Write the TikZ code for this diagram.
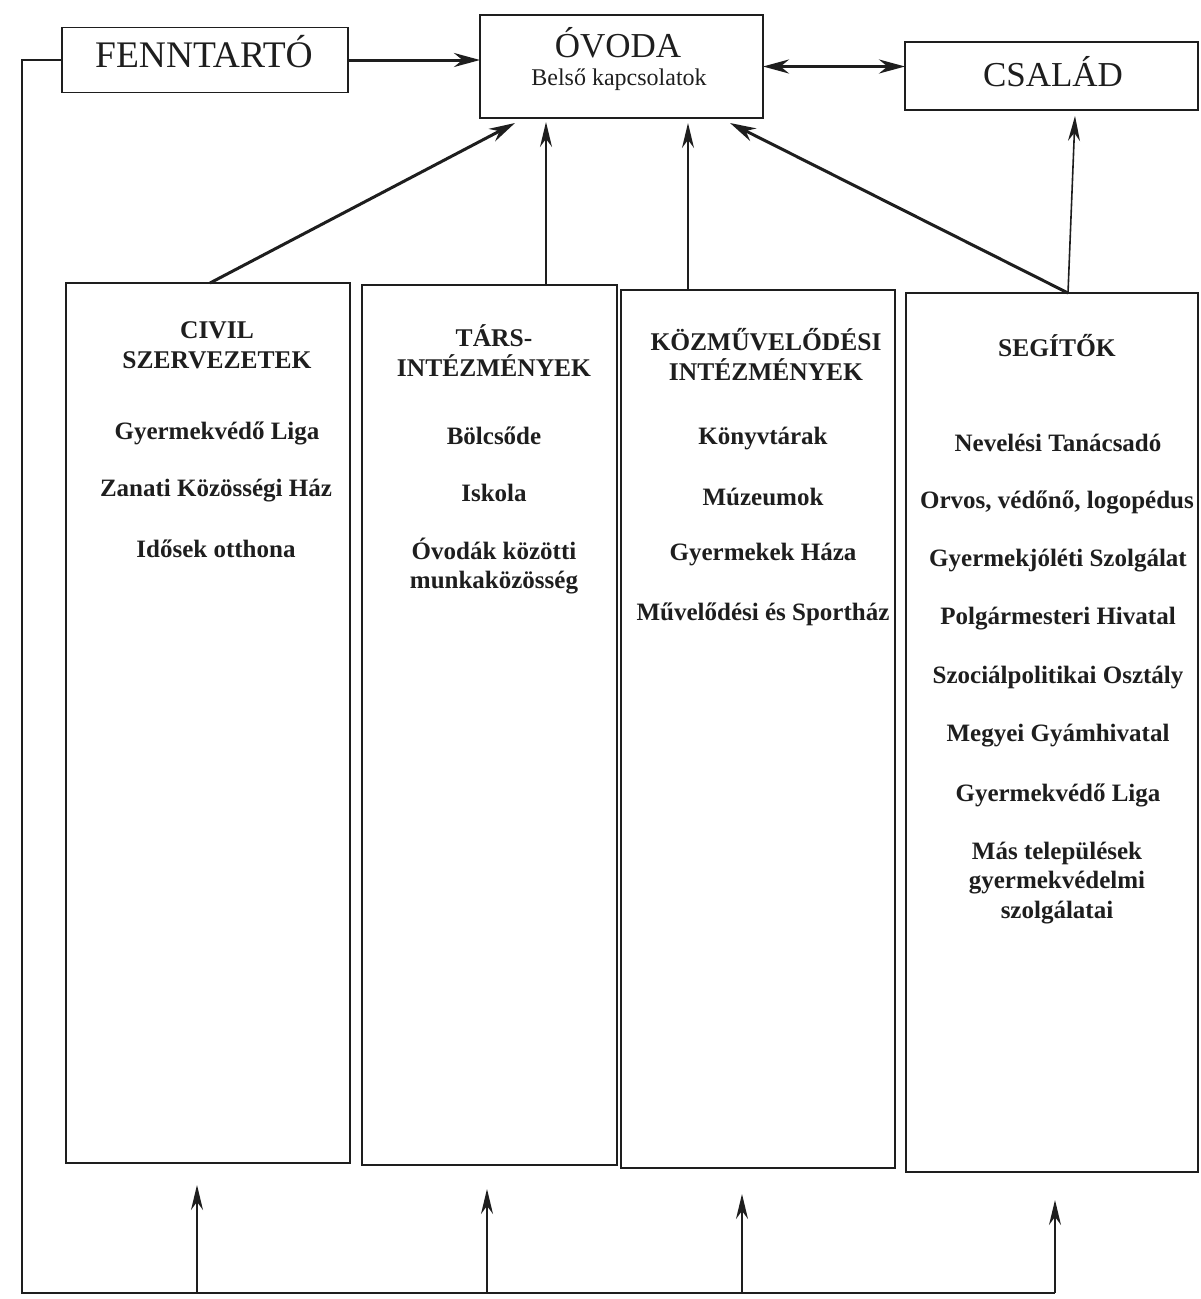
\documentclass[tikz,border=0pt]{standalone}
\usepackage{fontspec}
\setmainfont{Liberation Serif}
\usetikzlibrary{arrows.meta}
\definecolor{ink}{HTML}{1E1E1E}
\begin{document}
\begin{tikzpicture}[x=1pt,y=-1pt,
  bx/.style={draw=ink, line width=1.8pt, inner sep=0pt, outer sep=0pt},
  big/.style={text=ink, inner sep=0pt, font=\fontsize{35}{40}\selectfont},
  sub/.style={text=ink, inner sep=0pt, font=\fontsize{24}{28}\selectfont},
  hd/.style={text=ink, inner sep=0pt, align=center, font=\fontsize{25.5}{30}\selectfont\bfseries},
  itm/.style={text=ink, inner sep=0pt, align=center, font=\fontsize{25}{29.5}\selectfont\bfseries},
  thinarr/.style={draw=ink, line width=1.6pt, -{Stealth[length=25pt, width=12pt]}},
  thickarr/.style={draw=ink, line width=3pt, -{Stealth[length=26pt, width=14pt]}},
  dblarr/.style={draw=ink, line width=3pt, {Stealth[length=26pt, width=14pt]}-{Stealth[length=26pt, width=14pt]}},
  wire/.style={draw=ink, line width=2pt}
]
\useasboundingbox (0,0) rectangle (1201,1299);

% top boxes
\node[bx, minimum width=286, minimum height=65] (fenn) at (205,60) {};
\node[big, font=\fontsize{37.5}{42}\selectfont] (fenntxt) at (204,52) {FENNTARTÓ};
\node[bx, minimum width=283, minimum height=103] (ovoda) at (621.5,66.5) {};
\node[big] (ovodatxt) at (618,43) {ÓVODA};
\node[sub] (belso) at (619,80) {Belső kapcsolatok};
\node[bx, minimum width=293, minimum height=68] (csalad) at (1051.5,76) {};
\node[big] (csaladtxt) at (1053,72) {CSALÁD};

% lower boxes
\node[bx, minimum width=284, minimum height=880] (civil) at (208,723) {};
\node[bx, minimum width=255, minimum height=880] (tars) at (489.5,725) {};
\node[bx, minimum width=274, minimum height=878] (kozm) at (758,729) {};
\node[bx, minimum width=292, minimum height=879] (seg) at (1052,732.5) {};

% civil texts
\node[hd] (civh) at (217,345) {CIVIL\\SZERVEZETEK};
\node[itm] (civ1) at (217,433) {Gyermekvédő Liga};
\node[itm] (civ2) at (216,491) {Zanati Közösségi Ház};
\node[itm] (civ3) at (216,549) {Idősek otthona};

% tars texts
\node[hd] (tarsh) at (494,351) {TÁRS-\\INTÉZMÉNYEK};
\node[itm] (tars1) at (494,436) {Bölcsőde};
\node[itm] (tars2) at (494,493) {Iskola};
\node[itm] (tars3) at (494,566) {Óvodák közötti\\munkaközösség};

% kozm texts
\node[hd] (kozmh) at (766,354) {KÖZMŰVELŐDÉSI\\INTÉZMÉNYEK};
\node[itm] (kozm1) at (763,439) {Könyvtárak};
\node[itm] (kozm2) at (763,497) {Múzeumok};
\node[itm] (kozm3) at (763,555) {Gyermekek Háza};
\node[itm] (kozm4) at (763,614) {Művelődési és Sportház};

% seg texts
\node[hd] (segh) at (1057,346) {SEGÍTŐK};
\node[itm] (seg1) at (1058,443) {Nevelési Tanácsadó};
\node[itm] (seg2) at (1057,502) {Orvos, védőnő, logopédus};
\node[itm] (seg3) at (1058,561) {Gyermekjóléti Szolgálat};
\node[itm] (seg4) at (1058,619) {Polgármesteri Hivatal};
\node[itm] (seg5) at (1058,678) {Szociálpolitikai Osztály};
\node[itm] (seg6) at (1058,736) {Megyei Gyámhivatal};
\node[itm] (seg7) at (1058,795) {Gyermekvédő Liga};
\node[itm] (seg8) at (1057,883) {Más települések\\gyermekvédelmi\\szolgálatai};

% top connectors
\draw[thickarr] (fenn.east) -- (fenn.east -| ovoda.west);
\draw[dblarr] (ovoda.east) -- (ovoda.east -| csalad.west);

\draw[thickarr] ([xshift=144pt]civil.north west) -- ([xshift=35pt,yshift=-5pt]ovoda.south west);
\draw[thinarr] ([xshift=184pt]tars.north west) -- ([xshift=66pt,yshift=-4pt]ovoda.south west);
\draw[thinarr] ([xshift=67pt]kozm.north west) -- ([xshift=208pt,yshift=-5pt]ovoda.south west);
\draw[thickarr] ([xshift=162pt]seg.north west) -- ([xshift=250pt,yshift=-5pt]ovoda.south west);
\draw[thinarr] ([xshift=162pt]seg.north west) -- ([xshift=170pt,yshift=-6pt]csalad.south west);

% feedback wiring
\coordinate (lc) at (22,1293);
\coordinate (b1) at (197,1293);
\coordinate (b2) at (487,1293);
\coordinate (b3) at (742,1293);
\coordinate (b4) at (1055,1293);
\draw[wire] (fenn.west) -| (lc) -- (b4);
\draw[thinarr] (b1) -- ([xshift=131pt,yshift=-22pt]civil.south west);
\draw[thinarr] (b2) -- ([xshift=125pt,yshift=-24pt]tars.south west);
\draw[thinarr] (b3) -- ([xshift=121pt,yshift=-26pt]kozm.south west);
\draw[thinarr] (b4) -- ([xshift=149pt,yshift=-28pt]seg.south west);
\end{tikzpicture}
\end{document}
